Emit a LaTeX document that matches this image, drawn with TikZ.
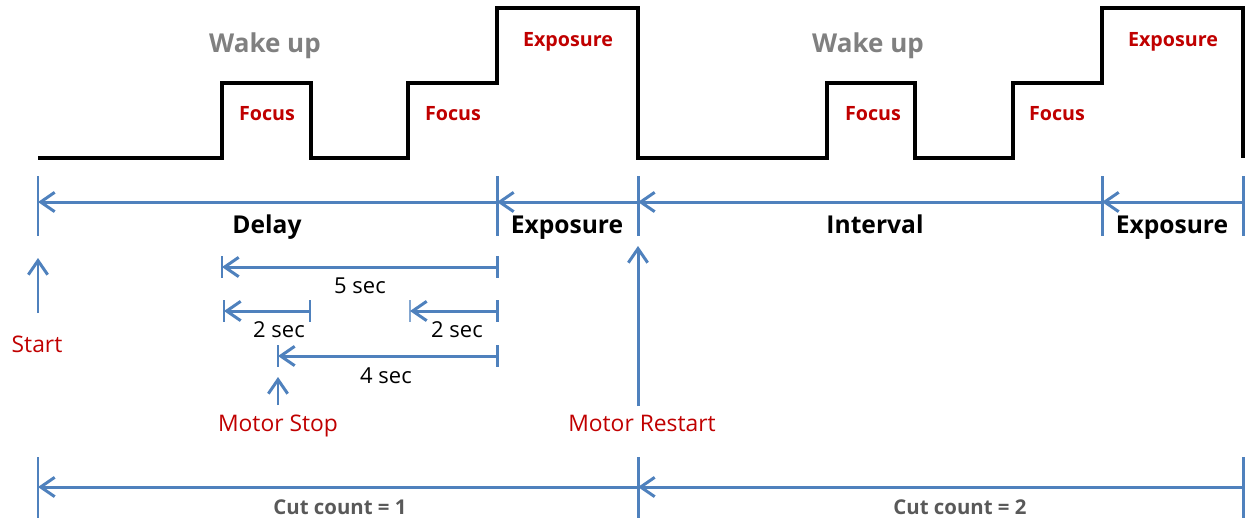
\documentclass[tikz,border=0pt]{standalone}
\usepackage{fontspec}
\setmainfont{Open Sans}
\usetikzlibrary{arrows.meta}
\definecolor{lineblue}{HTML}{4F81BD}
\definecolor{labelred}{HTML}{C00000}
\definecolor{wakegray}{HTML}{808080}
\definecolor{cutgray}{HTML}{595959}
\tikzset{
  pulse/.style={black, line width=2.4pt},
  dim/.style={lineblue, line width=1.7pt, {Straight Barb[length=8pt,width=11pt,line width=1.7pt]}-},
  dimtick/.style={lineblue, line width=1.7pt},
  pointer/.style={lineblue, line width=1.7pt, -{Straight Barb[length=8pt,width=11pt,line width=1.7pt]}},
  phase/.style={font=\fontsize{14}{16}\selectfont\bfseries, text height=10pt, text depth=3.5pt},
  wake/.style={wakegray, font=\fontsize{14.8}{16}\selectfont\bfseries, text height=10.5pt, text depth=3.6pt},
  stage/.style={labelred, font=\fontsize{11.2}{13}\selectfont\bfseries, text height=8pt, text depth=2.7pt},
  secs/.style={font=\fontsize{12.5}{14}\selectfont, text height=9pt, text depth=3pt},
  event/.style={labelred, font=\fontsize{13}{15}\selectfont, text height=9.3pt, text depth=3.2pt},
  cut/.style={cutgray, font=\fontsize{11.6}{13}\selectfont\bfseries, text height=8.3pt, text depth=2.8pt}
}
\begin{document}
\begin{tikzpicture}[x=0.02cm, y=-0.02cm]
  \useasboundingbox (0,0) rectangle (1250,528);
  % signal
  \draw[pulse] (38,158) -| (222,83) -| (311,158) -| (408,83) -| (497,8) -| (638,158)
    -| (827,83) -| (915,158) -| (1013,83) -| (1102,8) -| (1243,158);
  \node[wake] (wake1) at (265,46) {Wake up};
  \node[wake] (wake2) at (868,46) {Wake up};
  \node[stage] (focus1) at (267,116) {Focus};
  \node[stage] (focus2) at (453,116) {Focus};
  \node[stage] (focus3) at (873,116) {Focus};
  \node[stage] (focus4) at (1057,116) {Focus};
  \node[stage] (expo1) at (568,42) {Exposure};
  \node[stage] (expo2) at (1173,42) {Exposure};

  % phases
  \coordinate (r0) at (38,202);
  \coordinate (r1) at (497,202);
  \coordinate (r2) at (638,202);
  \coordinate (r3) at (1102,202);
  \coordinate (r4) at (1243,202);
  \foreach \c in {r0,r1,r2,r3,r4}
    \draw[dimtick] (\c) ++(0,-26) -- ++(0,60);
  \draw[dim] (r0) -- (r1);
  \draw[dim] (r1) -- (r2);
  \draw[dim] (r2) -- (r3);
  \draw[dim] (r3) -- (r4);
  \node[phase] (delay) at (267,228) {Delay};
  \node[phase] (expophase1) at (567,228) {Exposure};
  \node[phase] (interval) at (875,228) {Interval};
  \node[phase] (expophase2) at (1172,228) {Exposure};

  % start
  \coordinate (startfoot) at (38,313);
  \coordinate (starthead) at (38,258);
  \draw[pointer] (startfoot) -- (starthead);
  \node[event] (start) at (37,347) {Start};

  % timings inside the delay
  \coordinate (t5a) at (222,267);
  \coordinate (t5b) at (497,267);
  \coordinate (t2a) at (224,311);
  \coordinate (t2b) at (310,311);
  \coordinate (u2a) at (410,311);
  \coordinate (u2b) at (497,311);
  \coordinate (t4a) at (278,356);
  \coordinate (t4b) at (497,356);
  \foreach \c in {t5a,t5b,t2a,t2b,u2b,t4a,t4b}
    \draw[dimtick] (\c) ++(0,-11) -- ++(0,22);
  \draw[lineblue!70, line width=0.8pt] (u2a) ++(0,-11) -- ++(0,22);
  \draw[dim] (t5a) -- (t5b);
  \draw[dim] (t2a) -- (t2b);
  \draw[dim] (u2a) -- (u2b);
  \draw[dim] (t4a) -- (t4b);
  \node[secs] (sec5) at (360,288) {5 sec};
  \node[secs] (sec2a) at (279,332) {2 sec};
  \node[secs] (sec2b) at (457,332) {2 sec};
  \node[secs] (sec4) at (386,378) {4 sec};

  % motor
  \coordinate (stopfoot) at (278,405);
  \coordinate (stophead) at (278,377);
  \draw[pointer] (stopfoot) -- (stophead);
  \node[event] (motorstop) at (278,426) {Motor Stop};
  \coordinate (restartfoot) at (638,406);
  \coordinate (restarthead) at (638,246);
  \draw[pointer] (restartfoot) -- (restarthead);
  \node[event] (motorrestart) at (642,426) {Motor Restart};

  % cuts
  \coordinate (c0) at (38,487);
  \coordinate (c1) at (638,487);
  \coordinate (c2) at (1243,487);
  \foreach \c in {c0,c1,c2}
    \draw[dimtick] (\c) ++(0,-30) -- ++(0,61);
  \draw[dim] (c0) -- (c1);
  \draw[dim] (c1) -- (c2);
  \node[cut] (cut1) at (340,510) {Cut count = 1};
  \node[cut] (cut2) at (960,510) {Cut count = 2};
\end{tikzpicture}
\end{document}
